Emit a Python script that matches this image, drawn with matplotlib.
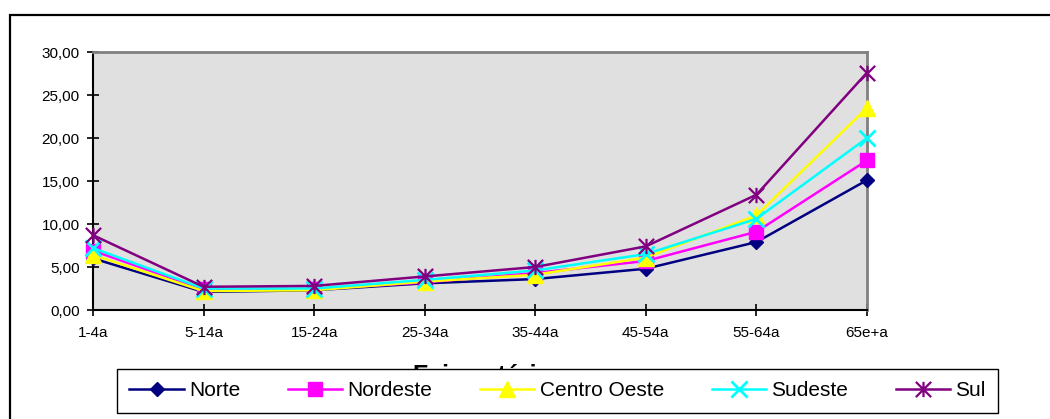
#-----------------------------------------------------------------------------------------

import numpy as np
from matplotlib import pyplot as plt
from matplotlib.path import Path
from matplotlib.patches import Rectangle

plt.rcParams['font.family'] = ['Liberation Sans', 'DejaVu Sans']

#-----------------------------------------------------------------------------------------

faixas = ["1-4a", "5-14a", "15-24a", "25-34a", "35-44a", "45-54a", "55-64a", "65e+a"]

norte        = [6.0, 2.1, 2.3, 3.1, 3.6, 4.8, 7.9, 15.1]
nordeste     = [6.9, 2.4, 2.4, 3.2, 4.3, 5.7, 9.1, 17.4]
centro_oeste = [6.4, 2.2, 2.3, 3.3, 4.1, 6.1, 11.0, 23.5]
sudeste      = [7.2, 2.5, 2.5, 3.5, 4.6, 6.5, 10.6, 20.0]
sul          = [8.7, 2.7, 2.8, 3.9, 5.0, 7.4, 13.4, 27.6]

y_ticks = [0, 5, 10, 15, 20, 25, 30]

#-----------------------------------------------------------------------------------------

# excel-style star: an x with a vertical bar through it
star = Path([(-1, -1), (1, 1), (-1, 1), (1, -1), (0, -1), (0, 1)],
            [Path.MOVETO, Path.LINETO, Path.MOVETO, Path.LINETO, Path.MOVETO, Path.LINETO])

series = [
    ("Norte",        norte,        '#000080', 'D',  7.6, 1.0),
    ("Nordeste",     nordeste,     '#FF00FF', 's',  10.5, 1.0),
    ("Centro Oeste", centro_oeste, '#FFFF00', '^',  11, 1.0),
    ("Sudeste",      sudeste,      '#00FFFF', 'x',  11, 2.0),
    ("Sul",          sul,          '#800080', star, 11, 1.6),
]

fig = plt.figure(figsize=(10.5, 4.19), dpi=100)
ax = fig.add_axes([93/1050, 1 - 310/419, (867 - 93)/1050, (310 - 52)/419])
ax.set_facecolor('#E0E0E0')

x = np.arange(len(faixas))
for name, vals, color, marker, ms, mew in series:
    ax.plot(x, vals, color=color, lw=1.8, marker=marker, markersize=ms,
            markerfacecolor=color, markeredgecolor=color, markeredgewidth=mew,
            label=name, clip_on=False, zorder=3)

ax.set_xlim(0, len(faixas) - 1)
ax.set_ylim(0, 30)
ax.set_xticks(x)
ax.set_xticklabels(faixas)
ax.set_yticks(y_ticks)
ax.yaxis.set_major_formatter(plt.FuncFormatter(lambda v, p: ("%.2f" % v).replace('.', ',')))
ax.tick_params(axis='both', direction='inout', length=9, width=1.2, color='black',
               labelsize=11, pad=5)
ax.tick_params(axis='x', pad=7)

for side in ('top', 'right'):
    ax.spines[side].set_color('#808080')
    ax.spines[side].set_linewidth(2)
for side in ('left', 'bottom'):
    ax.spines[side].set_color('black')
    ax.spines[side].set_linewidth(1.5)

# axis title, mostly hidden under the legend box
fig.text(482/1050, 1 - 383/419, "Faixa etária", fontsize=18, fontweight='bold',
         ha='center', va='baseline', zorder=3)

leg = fig.legend(loc='center', bbox_to_anchor=(557.5/1050, 1 - 391/419), ncol=5,
                 fontsize=15, frameon=True, fancybox=False, edgecolor='black',
                 framealpha=1, handlelength=2.6, handletextpad=0.25,
                 columnspacing=2.3, borderpad=0.6)
leg.get_frame().set_linewidth(1.0)
leg.set_zorder(5)

# outer chart border, running off the right and bottom edges
fig.add_artist(Rectangle((9.5/1050, -0.2), 1.2, 1.2 - 15.5/419, transform=fig.transFigure,
                         fill=False, edgecolor='black', lw=1.6, clip_on=False))

fig.savefig("out.png", dpi=100)
